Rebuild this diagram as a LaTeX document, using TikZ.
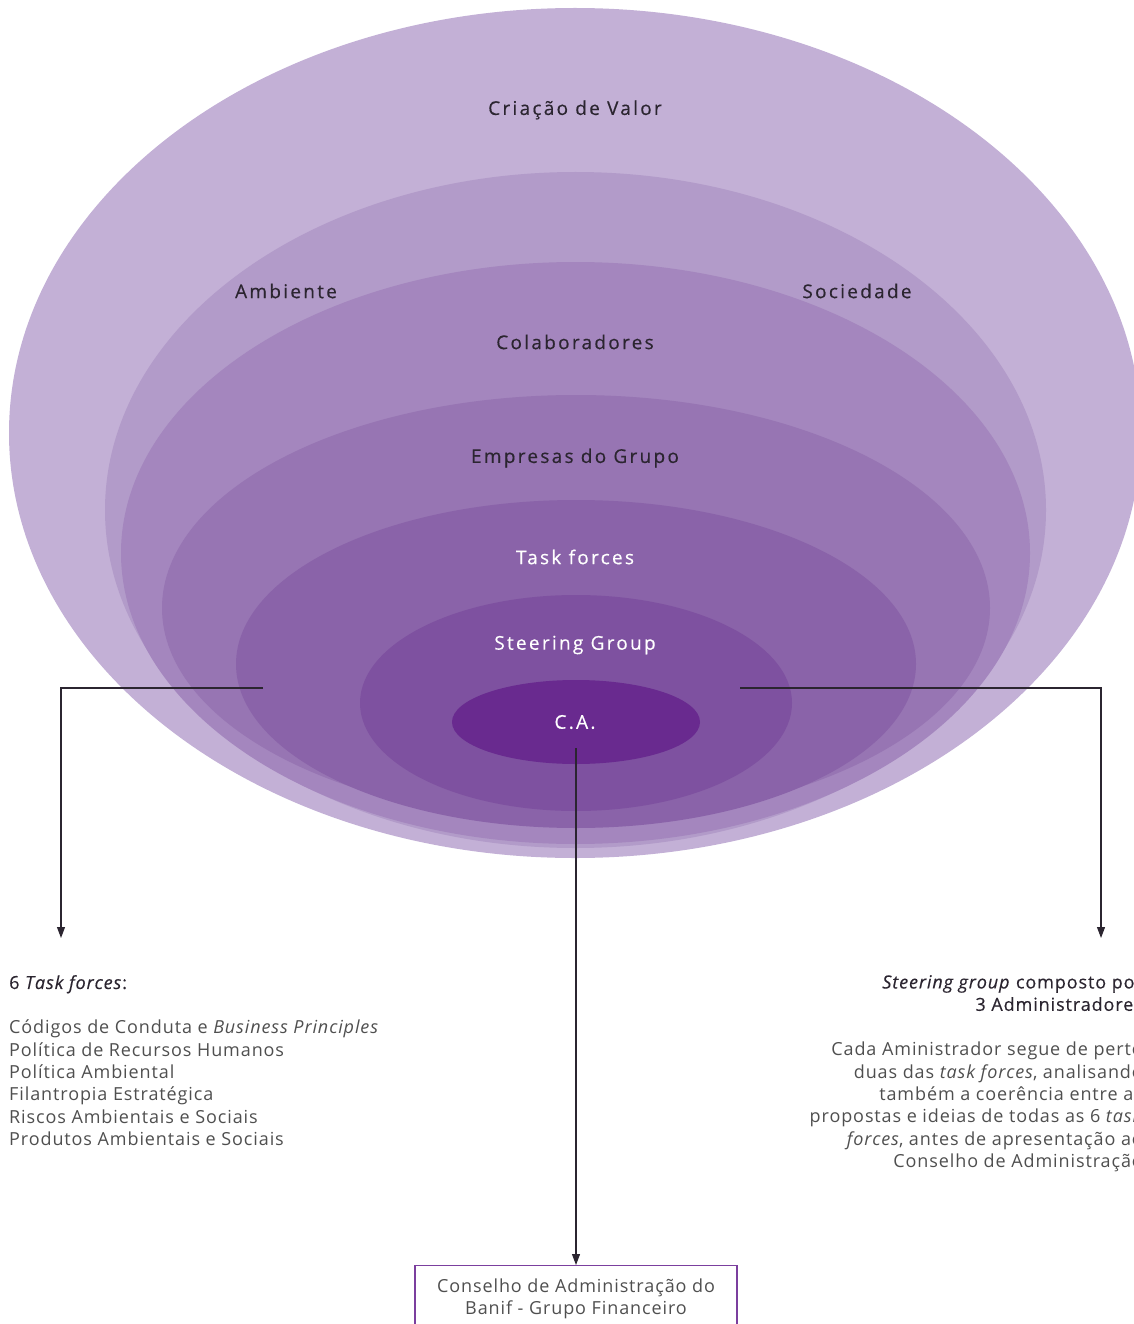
\documentclass[tikz,border=0pt]{standalone}
\usepackage{fontspec}
\setmainfont{Open Sans}[LetterSpace=5]
\newfontfamily\ringfont[LetterSpace=12, FakeBold=0.4]{Open Sans}
\newfontfamily\headfont[LetterSpace=5, FakeBold=0.4]{Open Sans}
\usetikzlibrary{arrows.meta}
\definecolor{ringA}{HTML}{C3B0D6}
\definecolor{ringB}{HTML}{B29BC9}
\definecolor{ringC}{HTML}{A486BE}
\definecolor{ringD}{HTML}{9775B3}
\definecolor{ringE}{HTML}{8A63A9}
\definecolor{ringF}{HTML}{7E51A0}
\definecolor{ringG}{HTML}{692A8F}
\definecolor{ink}{HTML}{2B2530}
\definecolor{bodygray}{HTML}{4F4F4F}
\definecolor{boxpurple}{HTML}{7B3F9E}

\begin{document}
\begin{tikzpicture}[x=1pt, y=-1pt, >={Triangle[length=11pt,width=8pt]},
    ring/.style={font=\ringfont\fontsize{19}{22}\selectfont, text=ink},
    ringw/.style={ring, text=white},
    body/.style={font=\fontsize{18}{22.4}\selectfont, text=bodygray, inner sep=0pt},
    link/.style={->, line width=1.1pt, draw=ink}]

    \useasboundingbox (0,0) rectangle (1133,1324);

    \fill[ringA] (575,433) ellipse [x radius=566, y radius=425];
    \fill[ringB] (575.5,510) ellipse [x radius=470.5, y radius=338];
    \fill[ringC] (575.5,553) ellipse [x radius=454.5, y radius=291];
    \fill[ringD] (576,608) ellipse [x radius=414, y radius=213];
    \fill[ringE] (576,664) ellipse [x radius=340, y radius=164];
    \fill[ringF] (576,703) ellipse [x radius=216, y radius=108];
    \fill[ringG] (576,722) ellipse [x radius=124, y radius=42];

    \node[ring] (valor) at (575,110) {Criação de Valor};
    \node[ring] (ambiente) at (286,291) {Ambiente};
    \node[ring] (sociedade) at (857,291) {Sociedade};
    \node[ring] (colab) at (575,342) {Colaboradores};
    \node[ring] (empresas) at (575,458) {Empresas do Grupo};
    \node[ringw] (task) at (575,557) {Task forces};
    \node[ringw] (steering) at (575,645) {Steering Group};
    \node[ringw] (ca) at (575,722) {C.A.};

    \node[body, anchor=north west, align=left] (tasklist) at (9,975)
        {{\headfont\color{ink}6 \textit{Task forces}:}\\[22.4pt]
         Códigos de Conduta e \textit{Business Principles}\\
         Política de Recursos Humanos\\
         Política Ambiental\\
         Filantropia Estratégica\\
         Riscos Ambientais e Sociais\\
         Produtos Ambientais e Sociais};

    \node[body, anchor=north east, align=right] (steerlist) at (1143,975)
        {{\headfont\color{ink}\textit{Steering group} composto por}\\
         {\headfont\color{ink}3 Administradores}\\[22.4pt]
         Cada Aministrador segue de perto\\
         duas das \textit{task forces}, analisando\\
         também a coerência entre as\\
         propostas e ideias de todas as 6 \textit{task}\\
         \textit{forces}, antes de apresentação ao\\
         Conselho de Administração};

    \node[body, draw=boxpurple, line width=1.2pt, minimum width=322pt, minimum height=66pt,
        anchor=north, align=center] (board) at (576,1265)
        {Conselho de Administração do\\Banif - Grupo Financeiro};

    \coordinate (taskStart) at (263,688);
    \coordinate (taskEnd) at (61,938);
    \coordinate (steerStart) at (740,688);
    \coordinate (steerEnd) at (1101,938);
    \coordinate (caStart) at (576,748);

    \draw[link] (taskStart) -| (taskEnd);
    \draw[link] (steerStart) -| (steerEnd);
    \draw[link] (caStart) -- (board.north);

\end{tikzpicture}
\end{document}
